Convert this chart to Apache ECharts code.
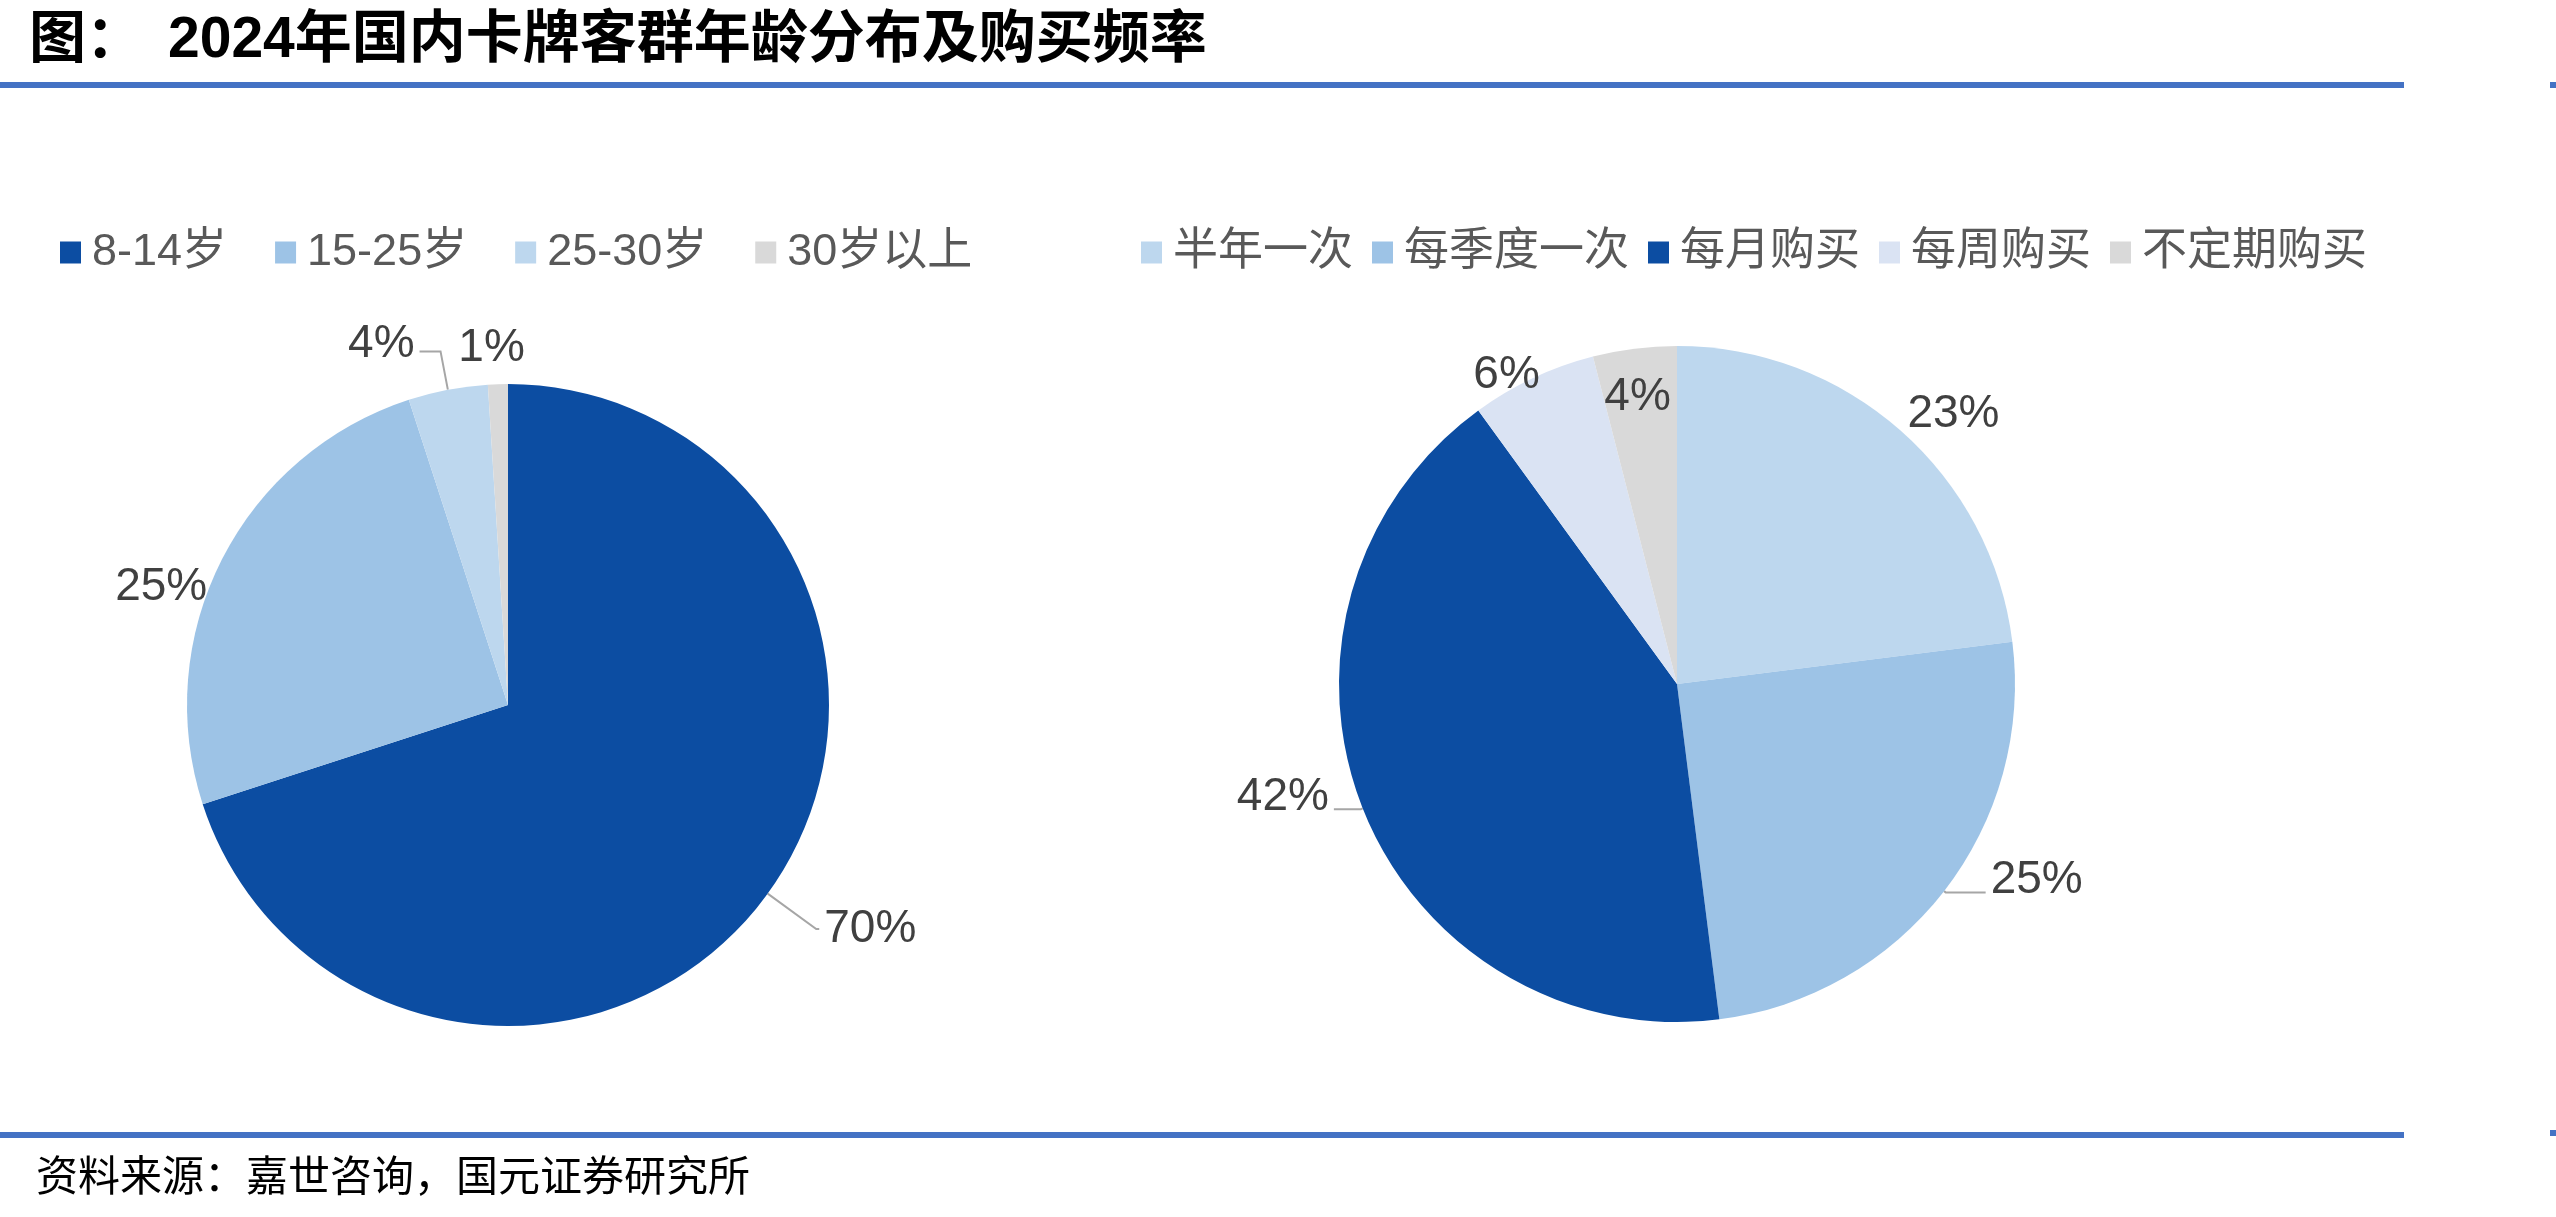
<!DOCTYPE html>
<html>
<head>
<meta charset="utf-8">
<title>2024年国内卡牌客群年龄分布及购买频率</title>
<script src="https://cdn.jsdelivr.net/npm/echarts@6/dist/echarts.min.js"></script>
<style>
  html, body { margin: 0; padding: 0; background: #fff; }
  #main { width: 2556px; height: 1217px; }
</style>
</head>
<body>
<div id="main"></div>
<script>
// 年龄分布
const ageNames = ['8-14岁', '15-25岁', '25-30岁', '30岁以上'];
const ageValues = [70, 25, 4, 1];
const ageColors = ['#0C4DA2', '#9DC3E6', '#BDD7EE', '#D9D9D9'];
// 购买频率
const freqNames = ['半年一次', '每季度一次', '每月购买', '每周购买', '不定期购买'];
const freqValues = [23, 25, 42, 6, 4];
const freqColors = ['#BDD7EE', '#9DC3E6', '#0C4DA2', '#DAE3F3', '#D9D9D9'];

// 标签引导线 [length, length2, 显示线, 文字上移]
const ageLabelLines = [[60, 3, true, 0], [-62, 65, false, 0], [39, 21, true, 7], [36, -33, false, 0]];
const freqLabelLines = [[21, -12, false, 0], [2, 40, true, 12], [2, 27, true, 12], [3, -13, false, 0], [-49, -35, false, 0]];

const numFont = "'Liberation Sans', 'Noto Sans CJK SC', sans-serif";

function buildData(names, values, colors, lines) {
  return names.map((name, i) => ({
    name: name,
    value: values[i],
    itemStyle: { color: colors[i] },
    label: {
      // 引导线接在文字底部：下方加一段空行把文字抬高
      formatter: lines[i][3] ? '{v|{c}%}\n{s| }' : '{v|{c}%}',
      rich: {
        v: { fontSize: 46, lineHeight: 46, color: '#404040', fontFamily: numFont },
        s: { fontSize: 1, lineHeight: lines[i][3] * 2 || 1 }
      }
    },
    labelLine: {
      show: lines[i][2],
      length: lines[i][0],
      length2: lines[i][1]
    }
  }));
}

const pieBase = {
  type: 'pie',
  startAngle: 90,
  clockwise: true,
  avoidLabelOverlap: false,
  silent: true,
  label: {
    show: true,
    position: 'outside',
    color: '#404040',
    fontSize: 46,
    fontFamily: numFont,
    distanceToLabelLine: 5
  },
  labelLine: {
    lineStyle: { color: '#A6A6A6', width: 2 },
    minTurnAngle: 0,
    maxSurfaceAngle: 180
  },
  emphasis: { disabled: true }
};

const legendBase = {
  orient: 'horizontal',
  top: 225,
  icon: 'rect',
  itemWidth: 21,
  itemHeight: 22,
  selectedMode: false,
  textStyle: {
    color: '#595959',
    fontSize: 45,
    fontFamily: numFont,
    padding: [0, 0, 0, 6]
  }
};

const chart = echarts.init(document.getElementById('main'));
chart.setOption({
  animation: false,
  backgroundColor: '#fff',
  title: [{
    text: '图：',
    left: 29,
    top: 13,
    padding: 0,
    textStyle: { fontSize: 57, fontWeight: 'bold', color: '#000', fontFamily: numFont }
  }, {
    text: '2024年国内卡牌客群年龄分布及购买频率',
    left: 168,
    top: 13,
    padding: 0,
    textStyle: { fontSize: 57, fontWeight: 'bold', color: '#000', fontFamily: numFont }
  }, {
    text: '资料来源：嘉世咨询，国元证券研究所',
    left: 36,
    top: 1158,
    padding: 0,
    textStyle: { fontSize: 42, fontWeight: 'normal', color: '#000', fontFamily: numFont }
  }],
  legend: [
    Object.assign({}, legendBase, { left: 55, itemGap: 48, data: ageNames }),
    Object.assign({}, legendBase, { left: 1136, itemGap: 19, data: freqNames })
  ],
  graphic: [
    { type: 'rect', shape: { x: 0, y: 82, width: 2404, height: 6 }, style: { fill: '#4472C4' } },
    { type: 'rect', shape: { x: 2550, y: 82, width: 6, height: 6 }, style: { fill: '#4472C4' } },
    { type: 'rect', shape: { x: 0, y: 1132, width: 2404, height: 6 }, style: { fill: '#4472C4' } },
    { type: 'rect', shape: { x: 2550, y: 1130, width: 6, height: 6 }, style: { fill: '#4472C4' } }
  ],
  series: [
    Object.assign({}, pieBase, {
      name: '年龄分布',
      center: [508, 705],
      radius: 321,
      data: buildData(ageNames, ageValues, ageColors, ageLabelLines)
    }),
    Object.assign({}, pieBase, {
      name: '购买频率',
      center: [1677, 684],
      radius: 338,
      data: buildData(freqNames, freqValues, freqColors, freqLabelLines)
    })
  ]
});
</script>
</body>
</html>
